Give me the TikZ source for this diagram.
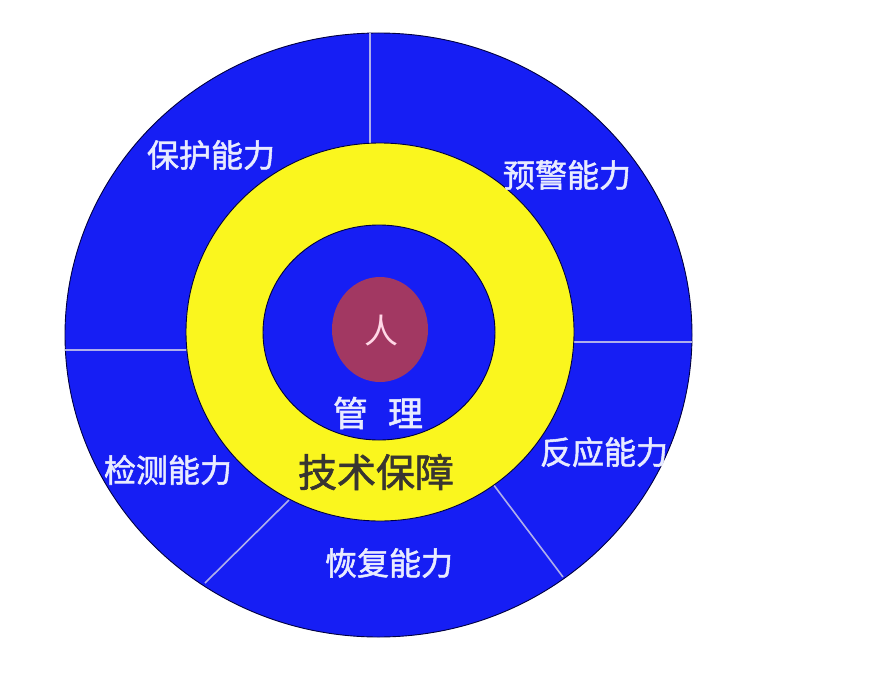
\documentclass[tikz,border=0pt]{standalone}
\usepackage{fontspec}
\newfontfamily\cjk{Noto Sans CJK SC}
\newfontfamily\cjkheavy[FakeBold=1.6]{Noto Sans CJK SC}
\definecolor{ringblue}{RGB}{22,30,244}
\definecolor{ringyellow}{RGB}{250,246,30}
\definecolor{coremaroon}{RGB}{162,56,98}
\definecolor{divider}{RGB}{175,175,235}
\definecolor{labelwhite}{RGB}{232,235,255}
\definecolor{corepink}{RGB}{255,215,230}
\tikzset{
  ring/.style={draw=black!75!blue, line width=0.9pt},
  divline/.style={draw=divider, line width=1.6pt},
  caplabel/.style={text=labelwhite, font=\cjkheavy\fontsize{32}{32}\selectfont, inner sep=0pt},
}
\begin{document}
\begin{tikzpicture}[x=1pt,y=-1pt]
\useasboundingbox (0,0) rectangle (888,690);
\fill[white] (0,0) rectangle (888,690);
% outer blue disc
\filldraw[ring, fill=ringblue] (378.5,335) ellipse [x radius=313.5, y radius=302];
% dividing lines
\coordinate (t1) at (370,33);   \coordinate (t2) at (370,145);
\coordinate (l1) at (65,350);   \coordinate (l2) at (190,350);
\coordinate (r1) at (692,342);  \coordinate (r2) at (570,342);
\coordinate (bl1) at (205,583); \coordinate (bl2) at (289,500);
\coordinate (br1) at (563,577); \coordinate (br2) at (493,484);
\draw[divline] (t1) -- (t2);
\draw[divline] (l1) -- (l2);
\draw[divline] (r1) -- (r2);
\draw[divline] (bl1) -- (bl2);
\draw[divline] (br1) -- (br2);
% yellow ring
\filldraw[ring, fill=ringyellow] (380,332) ellipse [x radius=194, y radius=189];
% inner blue disc
\filldraw[ring, fill=ringblue] (379,332.5) ellipse [x radius=116, y radius=107.5];
% core
\fill[coremaroon] (380,329.5) ellipse [x radius=48, y radius=52.5];
\node[text=corepink, font=\cjk\fontsize{34}{34}\selectfont, inner sep=0pt] (ren) at (381,331) {人};
\node[text=labelwhite, font=\cjkheavy\fontsize{35}{35}\selectfont, inner sep=0pt] (guanli) at (378,413) {管\hspace{20pt}理};
\node[text=black!90!yellow, font=\cjkheavy\fontsize{39}{39}\selectfont, inner sep=0pt] (jishu) at (376,472) {技术保障};
% capability labels
\node[caplabel] (baohu) at (211,155) {保护能力};
\node[caplabel] (yujing) at (567,175) {预警能力};
\node[caplabel] (jiance) at (168,470) {检测能力};
\node[caplabel] (fanying) at (604,452) {反应能力};
\node[caplabel] (huifu) at (389,563) {恢复能力};
\end{tikzpicture}
\end{document}
